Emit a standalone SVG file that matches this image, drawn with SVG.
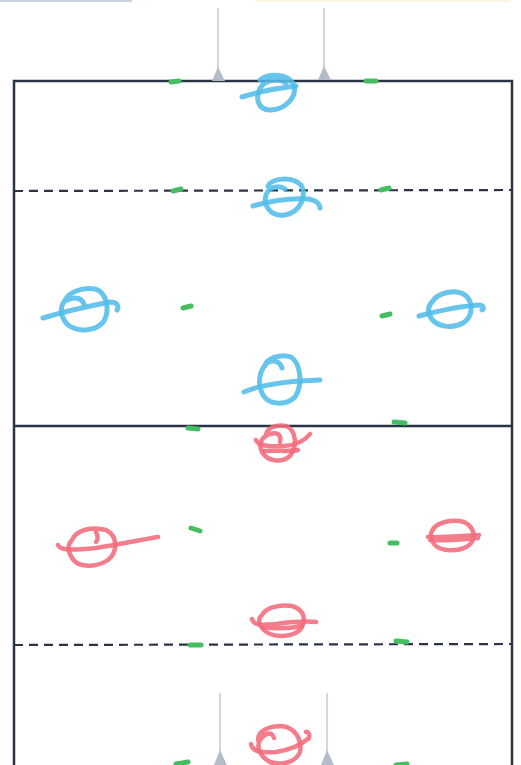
<svg xmlns="http://www.w3.org/2000/svg" width="521" height="765" viewBox="0 0 521 765">
<style>
.field{fill:none;stroke:#2b3445;stroke-width:2.5}
.dash{fill:none;stroke:#2b3445;stroke-width:2.2;stroke-dasharray:9 6}
.post{fill:none;stroke:#c4c9d2;stroke-width:1.5}
.tri{fill:#b4bcc8}
.cone{fill:none;stroke:#45bd63;stroke-width:5;stroke-linecap:round}
.blue{fill:none;stroke:#52bdea;stroke-width:5;stroke-linecap:round;stroke-linejoin:round;opacity:0.88}
.red{fill:none;stroke:#f26b7c;stroke-width:4.5;stroke-linecap:round;stroke-linejoin:round;opacity:0.88}
</style>
<rect width="521" height="765" fill="#ffffff"/>
<rect x="0" y="0" width="132" height="2" fill="#c9d3e4"/>
<rect x="255" y="0" width="255" height="2" fill="#faf6e0"/>
<g id="field">
<rect class="field" x="14" y="81" width="498" height="720"/>
<line class="field" x1="14" y1="426" x2="512" y2="426"/>
<line class="dash" x1="14" y1="191" x2="512" y2="190"/>
<line class="dash" x1="14" y1="645" x2="512" y2="644"/>
</g>
<g id="goals">
<line class="post" x1="218" y1="8" x2="218" y2="72"/>
<line class="post" x1="324" y1="8" x2="324" y2="72"/>
<polygon class="tri" points="218,67 212,81 225,81"/>
<polygon class="tri" points="324,66 318,80 331,80"/>
<line class="post" x1="220" y1="693" x2="220" y2="755"/>
<line class="post" x1="327" y1="693" x2="327" y2="755"/>
<polygon class="tri" points="220,750 214,765 227,765"/>
<polygon class="tri" points="327,750 321,765 334,765"/>
</g>
<g id="cones">
<line class="cone" x1="171" y1="82" x2="179" y2="81"/>
<line class="cone" x1="366" y1="81" x2="376" y2="81"/>
<line class="cone" x1="173" y1="191" x2="181" y2="189"/>
<line class="cone" x1="381" y1="190" x2="389" y2="188"/>
<line class="cone" x1="183" y1="308" x2="191" y2="306"/>
<line class="cone" x1="382" y1="316" x2="390" y2="314"/>
<line class="cone" x1="188" y1="428" x2="198" y2="429"/>
<line class="cone" x1="394" y1="422" x2="405" y2="423"/>
<line class="cone" x1="191" y1="528" x2="200" y2="531"/>
<line class="cone" x1="390" y1="543" x2="397" y2="543"/>
<line class="cone" x1="190" y1="645" x2="201" y2="645"/>
<line class="cone" x1="396" y1="641" x2="407" y2="642"/>
<line class="cone" x1="176" y1="764" x2="188" y2="762"/>
<line class="cone" x1="396" y1="765" x2="407" y2="764"/>
</g>
<g id="blue-players">
<g id="b1">
<path class="blue" d="M260,80 C270,72 290,74 294,86 C297,98 284,110 270,110 C258,110 255,98 260,88 C265,80 278,77 286,83"/>
<path class="blue" d="M242,97 C258,92 278,88 296,86"/>
</g>
<g id="b2">
<path class="blue" d="M268,186 C272,178 292,176 301,185 C307,195 301,212 285,215 C270,217 263,205 266,195 C268,188 278,184 285,189"/>
<path class="blue" d="M253,206 C270,201 290,198 308,199 C316,200 320,204 320,208"/>
</g>
<g id="b3">
<path class="blue" d="M64,302 C68,292 82,287 95,289 C107,292 110,310 104,321 C97,331 79,333 68,325 C60,317 60,307 64,302 Z M68,300 C74,296 82,298 84,304"/>
<path class="blue" d="M43,318 C62,312 90,306 110,302 C118,302 119,307 117,310"/>
</g>
<g id="b4">
<path class="blue" d="M432,302 C438,292 456,289 465,295 C474,302 473,317 463,323 C452,329 437,327 431,318 C427,311 428,306 432,302 Z"/>
<path class="blue" d="M419,316 C438,311 460,306 480,305 C484,306 484,309 482,310"/>
</g>
<g id="b5">
<path class="blue" d="M265,366 C266,359 280,353 291,357 C301,364 303,385 295,397 C286,406 269,405 263,395 C257,384 259,371 267,363 C272,359 280,361 282,368"/>
<path class="blue" d="M244,392 C262,384 290,381 320,380"/>
</g>
</g>
<g id="red-players">
<g id="r1">
<path class="red" d="M266,436 C266,428 276,424 286,426 C296,430 298,446 290,456 C282,463 268,462 262,452 C258,444 262,436 270,434 C276,432 282,434 280,442"/>
<path class="red" d="M256,440 C258,446 268,447 284,446 C296,445 304,442 310,434"/>
<path class="red" d="M264,451 C276,450 290,452 298,450"/>
</g>
<g id="r2">
<path class="red" d="M72,540 C76,530 92,526 106,530 C118,536 118,552 108,560 C96,568 78,568 72,558 C67,550 68,544 72,540 Z M96,532 C98,536 98,540 96,542"/>
<path class="red" d="M58,545 C60,551 74,550 96,548 C120,544 140,540 158,537"/>
</g>
<g id="r3">
<path class="red" d="M432,531 C436,522 452,519 464,522 C476,528 476,540 468,546 C458,552 440,552 434,544 C430,538 430,534 432,531 Z"/>
<path class="red" d="M428,537 C442,538 462,536 479,535 M430,540 C446,541 464,539 478,538"/>
</g>
<g id="r4">
<path class="red" d="M262,615 C266,608 278,604 292,606 C306,610 306,622 300,630 C290,638 272,638 264,630 C258,624 258,618 262,615 Z"/>
<path class="red" d="M252,619 C254,626 262,625 276,624 C292,622 306,621 316,622 M262,627 C276,629 292,628 302,626"/>
</g>
<g id="r5">
<path class="red" d="M258,740 C258,730 270,726 282,726 C296,728 302,740 300,752 C296,762 282,766 270,762 C260,756 256,748 260,740 C264,734 272,730 274,738"/>
<path class="red" d="M251,744 C252,752 262,753 276,752 C290,750 302,744 309,738 C310,734 308,731 306,732"/>
</g>
</g>
</svg>
